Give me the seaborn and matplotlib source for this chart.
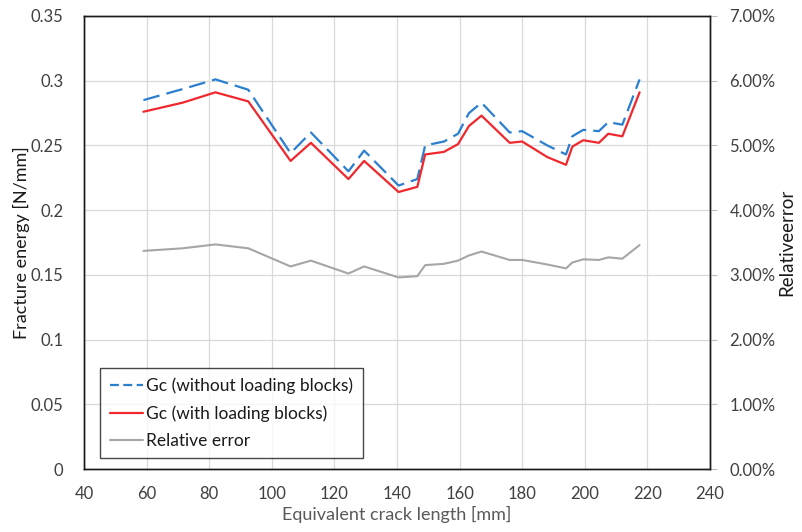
import matplotlib
matplotlib.use("Agg")
import matplotlib.pyplot as plt
from matplotlib.ticker import FuncFormatter, MultipleLocator
from matplotlib.lines import Line2D
import numpy as np
import pandas as pd
import seaborn as sns

# ── data ─────────────────────────────────────────────────────────────────────
crack_length = [59, 71.5, 82, 92.5, 106, 112.5, 124.5, 129.5, 140.5, 146.5,
                149, 155, 159.5, 163, 167, 176, 180, 188, 194, 196,
                199.5, 204.5, 207.5, 212, 217.5]
gc_without = [0.285, 0.2935, 0.301, 0.293, 0.244, 0.260, 0.230, 0.246, 0.219, 0.224,
              0.250, 0.253, 0.259, 0.275, 0.283, 0.260, 0.261, 0.250, 0.243, 0.257,
              0.262, 0.261, 0.268, 0.266, 0.301]
gc_with = [0.276, 0.283, 0.291, 0.284, 0.238, 0.252, 0.224, 0.238, 0.214, 0.218,
           0.243, 0.245, 0.251, 0.265, 0.273, 0.252, 0.253, 0.241, 0.235, 0.249,
           0.254, 0.252, 0.259, 0.257, 0.291]
rel_error = [3.37, 3.41, 3.47, 3.41, 3.13, 3.22, 3.02, 3.13, 2.96, 2.98,
             3.15, 3.17, 3.22, 3.30, 3.36, 3.23, 3.23, 3.16, 3.10, 3.19,
             3.24, 3.23, 3.27, 3.25, 3.46]

labels = ["Gc (without loading blocks)", "Gc (with loading blocks)", "Relative error"]
BLUE, RED, GREY = "#2a7fcf", "#f0282d", "#a6a6a6"
TXT = "#404040"

sns.set_style("white")
plt.rcParams["font.family"] = ["Lato", "DejaVu Sans"]

df = pd.DataFrame({"x": crack_length, "blue": gc_without, "red": gc_with, "err": rel_error})

fig = plt.figure(figsize=(8.02, 5.32), dpi=100)
ax = fig.add_axes([0.1047, 0.1184, 0.7806, 0.8516])
ax2 = ax.twinx()

sns.lineplot(data=df, x="x", y="blue", ax=ax, color=BLUE, lw=1.6,
             linestyle=(0, (7.5, 3.2)), zorder=3)
sns.lineplot(data=df, x="x", y="red", ax=ax, color=RED, lw=1.6, zorder=3)
sns.lineplot(data=df, x="x", y="err", ax=ax2, color=GREY, lw=1.5, zorder=2)

ax.set_xlim(40, 240)
ax.set_ylim(0, 0.35)
ax2.set_ylim(0, 7)
ax.xaxis.set_major_locator(MultipleLocator(20))
ax.yaxis.set_major_locator(MultipleLocator(0.05))
ax2.yaxis.set_major_locator(MultipleLocator(1))
ax.yaxis.set_major_formatter(FuncFormatter(lambda v, p: f"{v:.2f}".rstrip("0").rstrip(".") if v else "0"))
ax2.yaxis.set_major_formatter(FuncFormatter(lambda v, p: f"{v:.2f}%"))

ax.grid(True, color="#d9d9d9", lw=0.9)
ax.set_axisbelow(True)
for a in (ax, ax2):
    for s in a.spines.values():
        s.set_color("#1a1a1a")
        s.set_linewidth(1.0)

ax.tick_params(axis="both", length=0, labelsize=12, labelcolor=TXT)
ax.tick_params(axis="y", pad=15)
ax.tick_params(axis="x", pad=12)
ax2.tick_params(axis="y", length=5, color="#bfbfbf", labelsize=12, labelcolor=TXT, pad=9)

ax.set_xlabel("Equivalent crack length [mm]", fontsize=13, color="#595959", labelpad=3)
ax.set_ylabel("Fracture energy [N/mm]", fontsize=13, color="#1a1a1a", labelpad=0)
ax2.set_ylabel("Relativeerror", fontsize=13.5, color="#1a1a1a", labelpad=2)

handles = [Line2D([], [], color=BLUE, lw=1.6, linestyle=(0, (4, 2))),
           Line2D([], [], color=RED, lw=1.6),
           Line2D([], [], color=GREY, lw=1.5)]
leg = ax.legend(handles, labels, loc="lower left", bbox_to_anchor=(0.0256, 0.024),
                borderaxespad=0, fontsize=12.5, frameon=True, fancybox=False,
                handlelength=1.9, handletextpad=0.2, borderpad=0.55, labelspacing=0.62)
leg.get_frame().set_edgecolor("#1a1a1a")
leg.get_frame().set_linewidth(1.0)
for t in leg.get_texts():
    t.set_color("#1a1a1a")

fig.savefig("out.png", dpi=100)
